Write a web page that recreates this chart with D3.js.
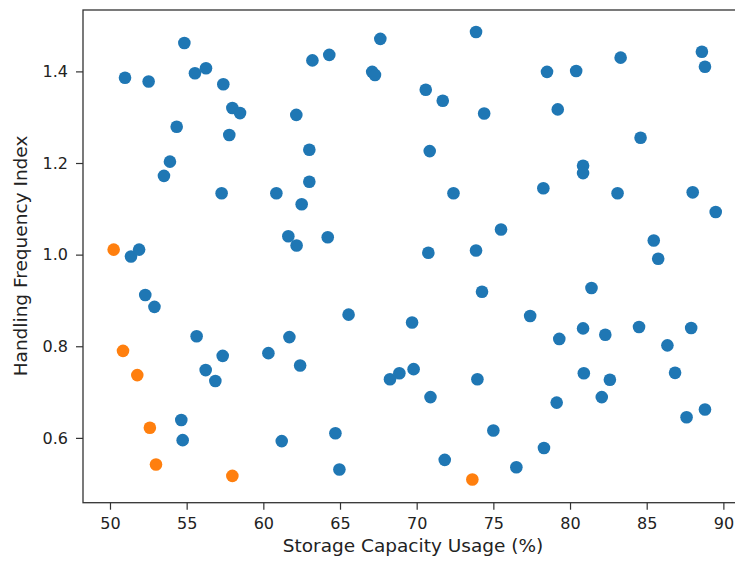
<!DOCTYPE html>
<html>
<head>
<meta charset="utf-8">
<script src="https://cdn.jsdelivr.net/npm/d3@7"></script>
<style>
  html, body { margin: 0; padding: 0; background: #fff; overflow: hidden; }
  text { font-family: "DejaVu Sans", sans-serif; fill: #222; }
</style>
</head>
<body>
<svg id="chart" width="735" height="561"></svg>
<script>
// Normal points
const normalX = [50.98, 52.52, 54.85, 55.54, 56.26, 57.39, 57.98, 58.48, 57.78, 54.35, 53.91, 53.52, 57.28,
  51.37, 51.9, 52.3, 52.9, 55.65, 56.24, 56.87, 57.35, 54.65, 54.74,
  60.33, 61.7, 62.4, 61.2, 64.7, 64.96, 65.56, 60.85, 61.63, 62.17, 62.5, 63.0, 63.0, 62.15, 63.2, 64.3, 64.2,
  67.1, 67.28, 67.63, 69.7, 68.26, 68.87, 69.8, 70.9, 70.76, 70.59, 70.85, 71.7, 72.4, 71.83,
  73.87, 74.4, 73.87, 74.26, 73.96, 75.0, 75.5, 76.5, 77.4, 78.26, 78.5, 79.2, 79.3, 79.13, 78.3,
  80.4, 80.85, 80.85, 80.85, 80.9, 81.4, 82.07, 82.3, 82.6, 83.1, 83.3, 84.6, 84.5, 85.46, 85.75,
  86.35, 86.85, 87.6, 87.9, 88.0, 88.6, 88.8, 88.8, 89.5];
const normalY = [1.386, 1.378, 1.462, 1.396, 1.407, 1.372, 1.320, 1.309, 1.261, 1.279, 1.203, 1.172, 1.134,
  0.996, 1.011, 0.912, 0.886, 0.822, 0.748, 0.724, 0.779, 0.639, 0.595,
  0.785, 0.820, 0.758, 0.593, 0.610, 0.531, 0.869, 1.134, 1.040, 1.020, 1.110, 1.159, 1.229, 1.305, 1.424, 1.436, 1.038,
  1.399, 1.392, 1.471, 0.852, 0.728, 0.741, 0.750, 0.689, 1.004, 1.360, 1.226, 1.336, 1.134, 0.552,
  1.486, 1.308, 1.009, 0.919, 0.728, 0.616, 1.055, 0.536, 0.866, 1.145, 1.399, 1.317, 0.816, 0.677, 0.578,
  1.401, 1.194, 1.178, 0.839, 0.741, 0.927, 0.689, 0.825, 0.727, 1.134, 1.430, 1.255, 0.842, 1.031, 0.991,
  0.802, 0.742, 0.645, 0.840, 1.136, 1.443, 1.410, 0.662, 1.093];
// Outlier points
const outlierX = [50.24, 50.85, 51.78, 52.6, 53.0, 57.98, 73.63];
const outlierY = [1.011, 0.790, 0.737, 0.622, 0.542, 0.517, 0.509];

const xTicks = [50, 55, 60, 65, 70, 75, 80, 85, 90];
const yTicks = [0.6, 0.8, 1.0, 1.2, 1.4];
const xLabel = "Storage Capacity Usage (%)";
const yLabel = "Handling Frequency Index";

const svg = d3.select("#chart");
const pLeft = 83, pRight = 743, pTop = 10, pBottom = 502.7;

const x = d3.scaleLinear().domain([48.24, 91.28]).range([pLeft, pRight]);
const y = d3.scaleLinear().domain([0.4585, 1.534]).range([pBottom, pTop]);

const normal = normalX.map((v, i) => ({x: v, y: normalY[i]}));
const outliers = outlierX.map((v, i) => ({x: v, y: outlierY[i]}));

svg.append("g").selectAll("circle").data(normal).join("circle")
  .attr("cx", d => x(d.x)).attr("cy", d => y(d.y)).attr("r", 6.3)
  .attr("fill", "#1f77b4");
svg.append("g").selectAll("circle").data(outliers).join("circle")
  .attr("cx", d => x(d.x)).attr("cy", d => y(d.y)).attr("r", 6.3)
  .attr("fill", "#ff7f0e");

// frame
svg.append("rect").attr("x", pLeft).attr("y", pTop)
  .attr("width", pRight - pLeft).attr("height", pBottom - pTop)
  .attr("fill", "none").attr("stroke", "#333").attr("stroke-width", 1.3);

const xAxis = svg.append("g").attr("transform", `translate(0,${pBottom})`)
  .call(d3.axisBottom(x).tickValues(xTicks).tickFormat(d3.format("d")).tickSize(7).tickPadding(8));
const yAxis = svg.append("g").attr("transform", `translate(${pLeft},0)`)
  .call(d3.axisLeft(y).tickValues(yTicks).tickFormat(d3.format(".1f")).tickSize(7).tickPadding(8));
[xAxis, yAxis].forEach(a => {
  a.select(".domain").remove();
  a.selectAll(".tick line").attr("stroke", "#333").attr("stroke-width", 1.2);
  a.selectAll(".tick text").style("font-size", "16px").attr("fill", "#222")
    .style("font-family", "DejaVu Sans, sans-serif");
});

svg.append("text").attr("x", 413).attr("y", 552)
  .attr("text-anchor", "middle").style("font-size", "18.5px").text(xLabel);
svg.append("text").attr("transform", `translate(27,256) rotate(-90)`)
  .attr("text-anchor", "middle").style("font-size", "18.5px").text(yLabel);
</script>
</body>
</html>
